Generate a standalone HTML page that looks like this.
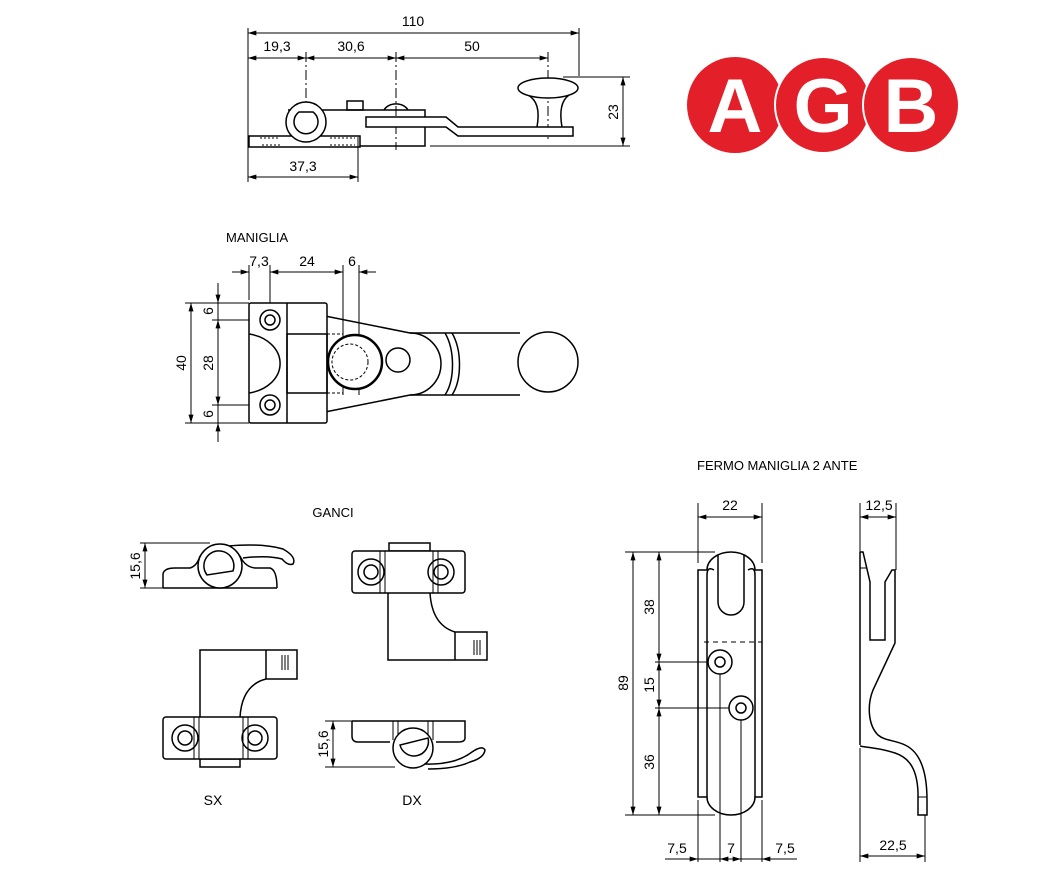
<!DOCTYPE html>
<html><head><meta charset="utf-8"><style>
body{margin:0;background:#fff}
svg{display:block}
text{font-family:"Liberation Sans",sans-serif;fill:#000}
</style></head><body>
<svg width="1041" height="873" viewBox="0 0 1041 873" xmlns="http://www.w3.org/2000/svg">
<defs>
<marker id="a" viewBox="0 0 10 6" refX="10" refY="3" markerWidth="9" markerHeight="5" orient="auto-start-reverse" markerUnits="userSpaceOnUse"><path d="M0,0L10,3L0,6z" fill="#000"/></marker>
</defs>
<g stroke="#000" stroke-width="1" fill="none">
<!-- TOP DRAWING -->
<line x1="248" y1="28" x2="248" y2="182"/>
<line x1="579" y1="28" x2="579" y2="76"/>
<line x1="248" y1="33" x2="579" y2="33" marker-start="url(#a)" marker-end="url(#a)"/>
<line x1="248" y1="58" x2="306" y2="58" marker-start="url(#a)" marker-end="url(#a)"/>
<line x1="306" y1="58" x2="396" y2="58" marker-start="url(#a)" marker-end="url(#a)"/>
<line x1="396" y1="58" x2="548" y2="58" marker-start="url(#a)" marker-end="url(#a)"/>
<line x1="306" y1="52" x2="306" y2="140" stroke-dasharray="10,3,2,3"/>
<line x1="396" y1="52" x2="396" y2="150" stroke-dasharray="10,3,2,3"/>
<line x1="548" y1="52" x2="548" y2="140" stroke-dasharray="10,3,2,3"/>
<line x1="563" y1="77" x2="630" y2="77"/>
<line x1="430" y1="146" x2="630" y2="146"/>
<line x1="623" y1="77" x2="623" y2="146" marker-start="url(#a)" marker-end="url(#a)"/>
<line x1="358" y1="137" x2="358" y2="182"/>
<line x1="248" y1="177" x2="358" y2="177" marker-start="url(#a)" marker-end="url(#a)"/>
<g stroke-width="1.5">
<rect x="249" y="136" width="111" height="11"/>
<path d="M288,110 H425 V146 H360"/>
<circle cx="306" cy="122" r="20" fill="#fff"/>
<path d="M299,112 A12,12 0 1 0 313,112 Z"/>
<rect x="347" y="101" width="16" height="9"/>
<path d="M384,110 A13,10 0 0 1 408,110"/>
<path d="M366,117 H446 L458,127 H573 V136 H458 L446,127 H366 Z" fill="#fff"/>
<path d="M537,127 C540,110 537,100 528,95 M562,127 C559,110 562,100 569,95"/>
<ellipse cx="548" cy="88" rx="30" ry="10" fill="#fff"/>
</g>
<path d="M260,138 H280 M330,138 H355 M262,145 H280 M330,145 H355" stroke-dasharray="2,2"/>

<!-- MANIGLIA -->
<line x1="249" y1="265" x2="249" y2="300"/>
<line x1="270" y1="265" x2="270" y2="320"/>
<line x1="343" y1="265" x2="343" y2="395"/>
<line x1="359" y1="265" x2="359" y2="395"/>
<line x1="232" y1="272" x2="249" y2="272" marker-end="url(#a)"/>
<line x1="270" y1="272" x2="343" y2="272" marker-start="url(#a)" marker-end="url(#a)"/>
<line x1="376" y1="272" x2="359" y2="272" marker-end="url(#a)"/>
<line x1="185" y1="303" x2="249" y2="303"/>
<line x1="185" y1="423" x2="249" y2="423"/>
<line x1="212" y1="320" x2="270" y2="320"/>
<line x1="212" y1="405" x2="270" y2="405"/>
<line x1="191" y1="303" x2="191" y2="423" marker-start="url(#a)" marker-end="url(#a)"/>
<line x1="218" y1="283" x2="218" y2="303" marker-end="url(#a)"/>
<line x1="218" y1="303" x2="218" y2="320"/>
<line x1="218" y1="320" x2="218" y2="405" marker-start="url(#a)" marker-end="url(#a)"/>
<line x1="218" y1="405" x2="218" y2="423"/>
<line x1="218" y1="442" x2="218" y2="423" marker-end="url(#a)"/>
<g stroke-width="1.5">
<path d="M325,316 L410,333 H520 M325,412 L410,395 H520" />
<path d="M410,333 A31,31 0 0 1 410,395"/>
<path d="M445,333 C455,350 455,380 445,395 M452,333 C462,350 462,380 452,395"/>
<rect x="249" y="303" width="78" height="120" rx="2" fill="#fff"/>
<line x1="287" y1="303" x2="287" y2="423"/>
<path d="M249,334 A38,30 0 0 1 249,393"/>
<rect x="287" y="334" width="40" height="59"/>
<circle cx="270" cy="320" r="10"/><circle cx="270" cy="320" r="5"/>
<circle cx="270" cy="405" r="10"/><circle cx="270" cy="405" r="5"/>
<circle cx="355" cy="362" r="27" stroke-width="2.5" fill="#fff"/>
<circle cx="398" cy="360" r="12"/>
<circle cx="548" cy="362" r="30" fill="#fff"/>
</g>
<circle cx="350" cy="362" r="18" stroke-dasharray="3,2"/>
<path d="M327,334 H343 M327,393 H343" stroke-dasharray="3,2"/>

<!-- GANCI -->
<!-- SX side -->
<line x1="140" y1="543" x2="210" y2="543"/>
<line x1="140" y1="588" x2="163" y2="588"/>
<line x1="145" y1="543" x2="145" y2="588" marker-start="url(#a)" marker-end="url(#a)"/>
<g stroke-width="1.5">
<path d="M163,588 V574 Q164,568 175,568 H190 Q197,566 200,556"/>
<path d="M240,556 Q245,567 255,568 H270 Q277,570 277,588"/>
<line x1="163" y1="588" x2="277" y2="588"/>
<path d="M228,546 Q262,543 283,549 Q297,557 293,564 Q288,566 282,559 Q268,555 243,558"/>
<circle cx="220" cy="566" r="22" fill="#fff"/>
<path d="M207,575 A15,15 0 1 1 233,571 Z"/>
</g>
<!-- DX plan -->
<g stroke-width="1.5">
<rect x="389" y="543" width="41" height="8"/>
<path d="M388,593 V660 H487 V632 H455 Q432,625 430,593"/>
<line x1="455" y1="632" x2="455" y2="660"/>
<path d="M474,640 V655 M477,640 V655 M480,640 V655" stroke-width="1"/>
<rect x="352" y="551" width="113" height="42" rx="3" fill="#fff"/>
<path d="M380,551 V593 M385,551 V593 M433,551 V593 M438,551 V593" stroke-width="1"/>
<circle cx="371" cy="572" r="13"/><circle cx="371" cy="572" r="7"/>
<circle cx="441" cy="572" r="13"/><circle cx="441" cy="572" r="7"/>
</g>
<!-- SX plan -->
<g stroke-width="1.5">
<rect x="200" y="759" width="40" height="8"/>
<path d="M200,717 V650 H297 V679 H266 Q242,685 240,717"/>
<line x1="266" y1="650" x2="266" y2="679"/>
<path d="M282,655 V670 M285,655 V670 M288,655 V670" stroke-width="1"/>
<rect x="163" y="717" width="114" height="42" rx="3" fill="#fff"/>
<path d="M194,717 V759 M199,717 V759 M243,717 V759 M248,717 V759" stroke-width="1"/>
<circle cx="185" cy="738" r="13"/><circle cx="185" cy="738" r="7"/>
<circle cx="255" cy="738" r="13"/><circle cx="255" cy="738" r="7"/>
</g>
<!-- DX side -->
<line x1="325" y1="721" x2="352" y2="721"/>
<line x1="325" y1="767" x2="395" y2="767"/>
<line x1="333" y1="721" x2="333" y2="767" marker-start="url(#a)" marker-end="url(#a)"/>
<g stroke-width="1.5">
<path d="M352,721 H465 V738 Q465,742 458,742 H436"/>
<path d="M390,742 H358 Q352,742 352,736 V721"/>
<path d="M425,764 Q455,765 472,752 Q482,745 485,750 Q484,758 470,762 Q455,769 428,769"/>
<circle cx="413" cy="748" r="20" fill="#fff"/>
<path d="M400,745 A14,14 0 1 0 428,738 Z"/>
<path d="M393,721 V740 M398,721 V735 M428,721 V735 M433,721 V740" stroke-width="1"/>
</g>

<!-- FERMO -->
<line x1="698" y1="503" x2="698" y2="563"/>
<line x1="762" y1="503" x2="762" y2="563"/>
<line x1="698" y1="517" x2="762" y2="517" marker-start="url(#a)" marker-end="url(#a)"/>
<line x1="698" y1="800" x2="698" y2="862"/>
<line x1="762" y1="800" x2="762" y2="862"/>
<line x1="625" y1="552" x2="715" y2="552"/>
<line x1="625" y1="815" x2="715" y2="815"/>
<line x1="633" y1="552" x2="633" y2="815" marker-start="url(#a)" marker-end="url(#a)"/>
<line x1="659" y1="552" x2="659" y2="662" marker-start="url(#a)" marker-end="url(#a)"/>
<line x1="659" y1="662" x2="659" y2="708" marker-start="url(#a)" marker-end="url(#a)"/>
<line x1="659" y1="708" x2="659" y2="815" marker-start="url(#a)" marker-end="url(#a)"/>
<line x1="655" y1="662" x2="720" y2="662"/>
<line x1="655" y1="708" x2="741" y2="708"/>
<line x1="720" y1="662" x2="720" y2="862"/>
<line x1="741" y1="708" x2="741" y2="862"/>
<line x1="665" y1="859" x2="698" y2="859" marker-end="url(#a)"/>
<line x1="698" y1="859" x2="762" y2="859"/>
<line x1="720" y1="859" x2="741" y2="859" marker-start="url(#a)" marker-end="url(#a)"/>
<line x1="797" y1="859" x2="762" y2="859" marker-end="url(#a)"/>
<g stroke-width="1.5">
<path d="M698,570 H707 A24,18 0 0 1 755,570 H762 V797 H755 A24,18 0 0 1 707,797 H698 Z"/>
<path d="M707,797 V575 Q707,566 714,570 M755,797 V575 Q755,566 748,570"/>
<path d="M718,555 V602 A13,13 0 0 0 744,602 V555"/>
<circle cx="720" cy="662" r="12" fill="#fff"/><circle cx="720" cy="662" r="5"/>
<circle cx="741" cy="708" r="12" fill="#fff"/><circle cx="741" cy="708" r="5"/>
</g>
<line x1="704" y1="642" x2="762" y2="642" stroke-dasharray="5,4"/>
<!-- side -->
<line x1="860" y1="503" x2="860" y2="552"/>
<line x1="896" y1="503" x2="896" y2="570"/>
<line x1="860" y1="517" x2="896" y2="517" marker-start="url(#a)" marker-end="url(#a)"/>
<line x1="860" y1="748" x2="860" y2="862"/>
<line x1="925" y1="815" x2="925" y2="862"/>
<line x1="860" y1="856" x2="925" y2="856" marker-start="url(#a)" marker-end="url(#a)"/>
<g stroke-width="1.5">
<path d="M860,552 V745 M860,552 H863 L870,582 V640 H885 V582 L892,570 H895 V643 L873,690 C867,705 868,725 878,735 C885,741 895,740 905,745 C920,752 927,770 927,800 V815 H918 V792 C917,770 910,758 895,753 C880,748 870,748 860,746"/>
<line x1="860" y1="568" x2="866" y2="568" stroke-width="1"/>
<line x1="918" y1="797" x2="927" y2="797" stroke-width="1"/>
</g>
</g>

<!-- LOGO -->
<g>
<circle cx="735" cy="105" r="48" fill="#e3202a"/>
<circle cx="823" cy="105" r="48" fill="#e3202a" stroke="#fff" stroke-width="2"/>
<circle cx="911" cy="105" r="48" fill="#e3202a" stroke="#fff" stroke-width="2"/>
<text x="735" y="132" font-size="76" font-weight="bold" text-anchor="middle" style="fill:#fff">A</text>
<text x="823" y="132" font-size="76" font-weight="bold" text-anchor="middle" style="fill:#fff">G</text>
<text x="911" y="132" font-size="76" font-weight="bold" text-anchor="middle" style="fill:#fff">B</text>
</g>

<!-- TEXT -->
<g font-size="14">
<text x="413" y="26" text-anchor="middle">110</text>
<text x="277" y="51" text-anchor="middle">19,3</text>
<text x="351" y="51" text-anchor="middle">30,6</text>
<text x="472" y="51" text-anchor="middle">50</text>
<text x="303" y="171" text-anchor="middle">37,3</text>
<text transform="translate(618,112) rotate(-90)" text-anchor="middle">23</text>
<text x="226" y="242" font-size="13">MANIGLIA</text>
<text x="259" y="266" text-anchor="middle">7,3</text>
<text x="307" y="266" text-anchor="middle">24</text>
<text x="352" y="266" text-anchor="middle">6</text>
<text transform="translate(186,363) rotate(-90)" text-anchor="middle">40</text>
<text transform="translate(213,363) rotate(-90)" text-anchor="middle">28</text>
<text transform="translate(213,311) rotate(-90)" text-anchor="middle">6</text>
<text transform="translate(213,414) rotate(-90)" text-anchor="middle">6</text>
<text x="333" y="517" text-anchor="middle" font-size="13">GANCI</text>
<text transform="translate(140,566) rotate(-90)" text-anchor="middle">15,6</text>
<text transform="translate(328,744) rotate(-90)" text-anchor="middle">15,6</text>
<text x="213" y="805" text-anchor="middle">SX</text>
<text x="412" y="805" text-anchor="middle">DX</text>
<text x="697" y="470" font-size="13">FERMO MANIGLIA 2 ANTE</text>
<text x="730" y="510" text-anchor="middle">22</text>
<text x="879" y="510" text-anchor="middle">12,5</text>
<text transform="translate(628,683) rotate(-90)" text-anchor="middle">89</text>
<text transform="translate(654,607) rotate(-90)" text-anchor="middle">38</text>
<text transform="translate(654,685) rotate(-90)" text-anchor="middle">15</text>
<text transform="translate(654,762) rotate(-90)" text-anchor="middle">36</text>
<text x="677" y="853" text-anchor="middle">7,5</text>
<text x="731" y="853" text-anchor="middle">7</text>
<text x="785" y="853" text-anchor="middle">7,5</text>
<text x="893" y="850" text-anchor="middle">22,5</text>
</g>
</svg>
</body></html>
